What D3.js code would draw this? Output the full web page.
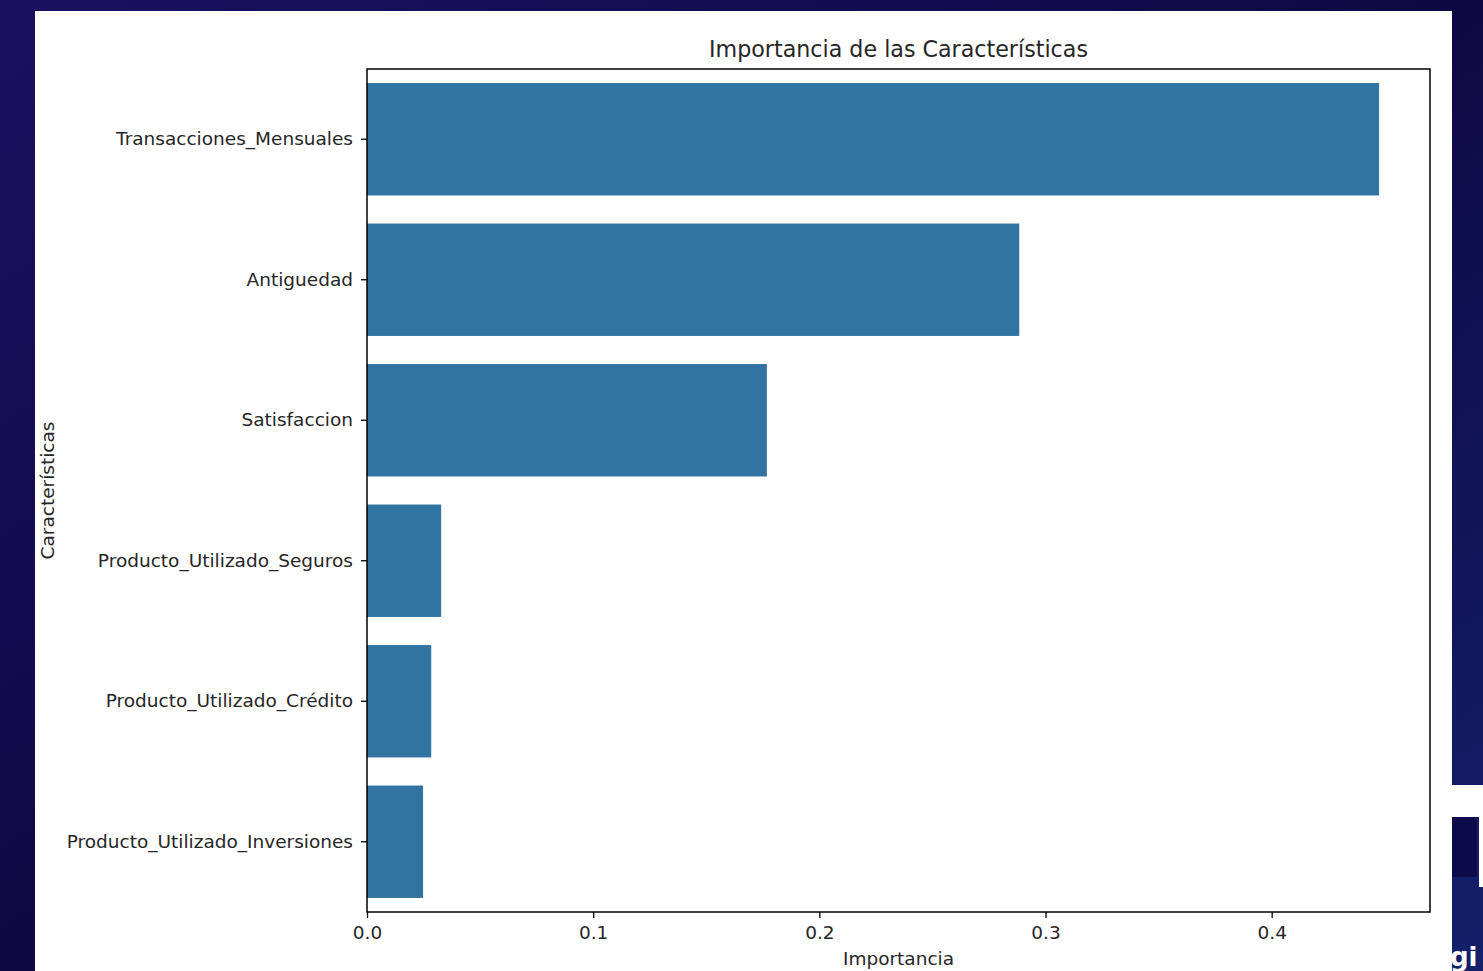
<!DOCTYPE html>
<html>
<head>
<meta charset="utf-8">
<script src="https://cdn.jsdelivr.net/npm/d3@7"></script>
<style>
  html, body { margin: 0; padding: 0; background: #0d0840; }
  svg { display: block; }
  text { font-family: "DejaVu Sans", sans-serif; fill: #262626; }
</style>
</head>
<body>
<svg id="chart" width="1483" height="971"></svg>
<script>
const categories = [
  "Transacciones_Mensuales",
  "Antiguedad",
  "Satisfaccion",
  "Producto_Utilizado_Seguros",
  "Producto_Utilizado_Crédito",
  "Producto_Utilizado_Inversiones"
];
const importance = [0.4475, 0.2884, 0.1768, 0.0328, 0.0284, 0.0248];
const xTicks = [0.0, 0.1, 0.2, 0.3, 0.4];
const titleText = "Importancia de las Características";
const xLabelText = "Importancia";
const yLabelText = "Características";

const svg = d3.select("#chart");
const W = 1483, H = 971;

// background
const defs = svg.append("defs");
const grad = defs.append("linearGradient").attr("id", "bg").attr("x1", "0").attr("y1", "0").attr("x2", "1").attr("y2", "1");
grad.append("stop").attr("offset", "0").attr("stop-color", "#1a1160");
grad.append("stop").attr("offset", "0.5").attr("stop-color", "#0e0944");
grad.append("stop").attr("offset", "1").attr("stop-color", "#14206a");
svg.append("rect").attr("width", W).attr("height", H).attr("fill", "url(#bg)");

// logo fragments on right edge
svg.append("rect").attr("x", 1452).attr("y", 785).attr("width", 31).attr("height", 32).attr("fill", "#ffffff");
svg.append("rect").attr("x", 1452).attr("y", 817).attr("width", 25).attr("height", 60).attr("fill", "#0d0a4a");
svg.append("rect").attr("x", 1479).attr("y", 817).attr("width", 4).attr("height", 70).attr("fill", "#ffffff");
svg.append("text").attr("x", 1450).attr("y", 966).attr("font-size", 26).attr("font-weight", "bold")
  .style("fill", "#ffffff").text("gi");

// white panel
svg.append("rect").attr("x", 35).attr("y", 11).attr("width", 1417).attr("height", 960).attr("fill", "#ffffff");

const pL = 367, pR = 1430, pT = 69, pB = 912;

const x = d3.scaleLinear().domain([0, 0.47]).range([pL, pR]);
const y = d3.scaleBand().domain(categories).range([pT, pB]).paddingInner(0.2).paddingOuter(0.1);

svg.append("g").selectAll("rect").data(categories).join("rect")
  .attr("x", x(0))
  .attr("y", d => y(d))
  .attr("width", (d, i) => x(importance[i]) - x(0))
  .attr("height", y.bandwidth())
  .attr("fill", "#3274a1");

// axes
const xAxis = d3.axisBottom(x).tickValues(xTicks).tickFormat(d3.format(".1f")).tickSize(6).tickPadding(8);
const gx = svg.append("g").attr("transform", `translate(0,${pB})`).call(xAxis);
gx.select(".domain").remove();
gx.selectAll("line").attr("stroke", "#000").attr("stroke-width", 1.3);
gx.selectAll("text").attr("font-size", 18.5).attr("font-family", "DejaVu Sans").style("fill", "#262626");

const yAxis = d3.axisLeft(y).tickSize(6).tickPadding(8);
const gy = svg.append("g").attr("transform", `translate(${pL},0)`).call(yAxis);
gy.select(".domain").remove();
gy.selectAll("line").attr("stroke", "#000").attr("stroke-width", 1.3);
gy.selectAll("text").attr("font-size", 18.5).attr("font-family", "DejaVu Sans").style("fill", "#262626");

// frame
svg.append("rect").attr("x", pL).attr("y", pT).attr("width", pR - pL).attr("height", pB - pT)
  .attr("fill", "none").attr("stroke", "#000").attr("stroke-width", 1.5);

// title and labels
svg.append("text").attr("x", (pL + pR) / 2).attr("y", 57).attr("text-anchor", "middle")
  .attr("font-size", 22.2).text(titleText);
svg.append("text").attr("x", (pL + pR) / 2).attr("y", 965).attr("text-anchor", "middle")
  .attr("font-size", 18.5).text(xLabelText);
svg.append("text").attr("transform", `translate(54,${(pT + pB) / 2}) rotate(-90)`).attr("text-anchor", "middle")
  .attr("font-size", 18.5).text(yLabelText);
</script>
</body>
</html>
